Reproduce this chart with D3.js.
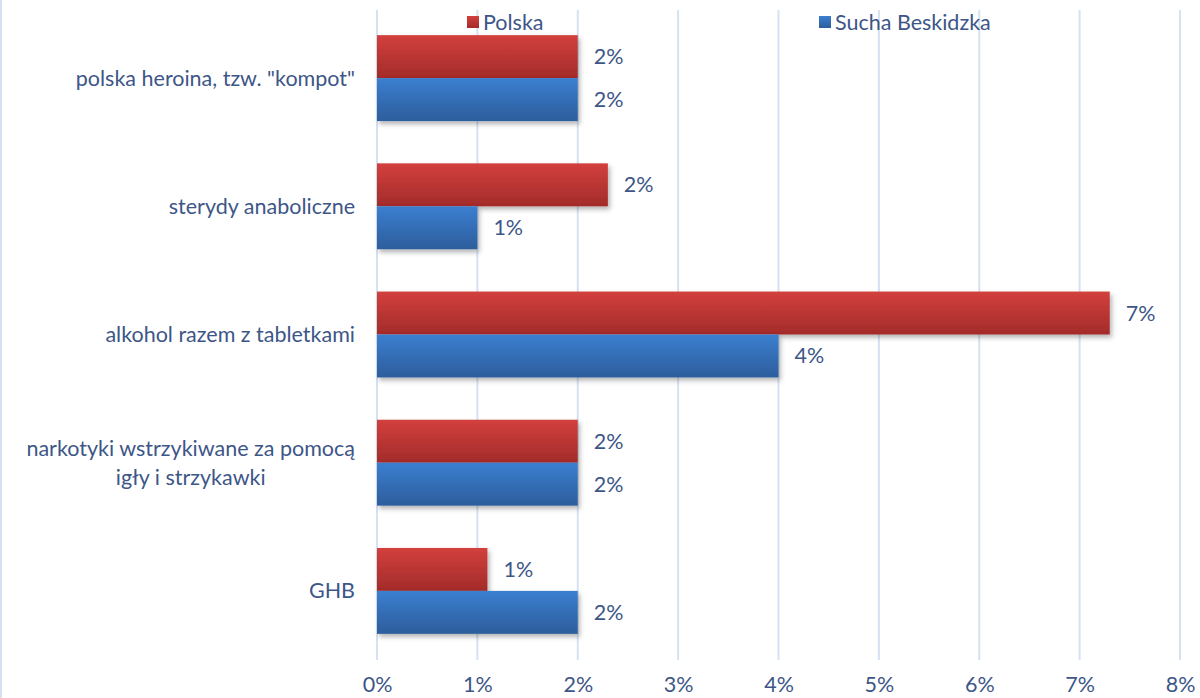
<!DOCTYPE html>
<html><head><meta charset="utf-8">
<script src="https://cdn.jsdelivr.net/npm/d3@7"></script>
<style>
html,body{margin:0;padding:0;background:#fff;}
svg{display:block;font-family:Lato,"Open Sans",sans-serif;}
</style></head>
<body>
<svg id="chart" width="1200" height="698"></svg>
<script>
const categories = [
  ["polska heroina, tzw. \"kompot\""],
  ["sterydy anaboliczne"],
  ["alkohol razem z tabletkami"],
  ["narkotyki wstrzykiwane za pomocą", "igły i strzykawki"],
  ["GHB"]
];
const seriesNames = ["Polska", "Sucha Beskidzka"];
const polska = [2.0, 2.3, 7.3, 2.0, 1.1];
const sucha = [2.0, 1.0, 4.0, 2.0, 2.0];
const polskaLabels = ["2%", "2%", "7%", "2%", "1%"];
const suchaLabels = ["2%", "1%", "4%", "2%", "2%"];
const ticks = [0,1,2,3,4,5,6,7,8];

(function(){
const svg = d3.select("#chart");
const W = 1200, H = 698;
const mLeft = 377, mRight = 1180, mTop = 14, mBottom = 655;
const textColor = "#3d5687";
const fs = 21.5;

const defs = svg.append("defs");
function grad(id, c1, c2){
  const g = defs.append("linearGradient").attr("id", id).attr("x1",0).attr("y1",0).attr("x2",0).attr("y2",1);
  g.append("stop").attr("offset","0%").attr("stop-color",c1);
  g.append("stop").attr("offset","100%").attr("stop-color",c2);
}
grad("gRed", "#d2403d", "#a32b2a");
grad("gBlue", "#3b7fd0", "#2d5d9c");
const f = defs.append("filter").attr("id","sh").attr("x","-5%").attr("y","-20%").attr("width","115%").attr("height","150%");
f.append("feDropShadow").attr("dx",2).attr("dy",3).attr("stdDeviation",2.5).attr("flood-color","#000").attr("flood-opacity",0.3);

svg.append("line").attr("x1",1).attr("x2",1).attr("y1",0).attr("y2",H).attr("stroke","#d3e0f0").attr("stroke-width",2);

const x = d3.scaleLinear().domain([0,8]).range([mLeft,mRight]);
const y = d3.scaleBand().domain(d3.range(categories.length)).range([mTop,mBottom]).paddingInner(0.33).paddingOuter(0.165);
const ySub = d3.scaleBand().domain([0,1]).range([0,y.bandwidth()]);

svg.append("g").selectAll("line").data(ticks).join("line")
  .attr("x1",d=>x(d)).attr("x2",d=>x(d)).attr("y1",10).attr("y2",660)
  .attr("stroke","#d5e2f2").attr("stroke-width",2);

const xAxis = d3.axisBottom(x).tickValues(ticks).tickFormat(d=>d+"%").tickSize(0);
const gx = svg.append("g").attr("transform",`translate(0,${mBottom+19})`).call(xAxis);
gx.select(".domain").remove();
gx.selectAll("text").attr("fill",textColor).attr("font-size",fs).attr("dy","0.71em")
  .attr("font-family","Lato,sans-serif");

const series = [
  {vals: polska, labels: polskaLabels, fill: "url(#gRed)", idx: 0},
  {vals: sucha, labels: suchaLabels, fill: "url(#gBlue)", idx: 1}
];
series.forEach(s=>{
  const g = svg.append("g");
  g.selectAll("rect").data(s.vals).join("rect")
    .attr("x", x(0))
    .attr("y", (d,i)=> y(i)+ySub(s.idx))
    .attr("width", d=> x(d)-x(0))
    .attr("height", ySub.bandwidth())
    .attr("fill", s.fill)
    .attr("filter","url(#sh)");
  g.selectAll("text").data(s.vals).join("text")
    .attr("x", d=> x(d)+16)
    .attr("y", (d,i)=> y(i)+ySub(s.idx)+ySub.bandwidth()/2)
    .attr("dy","0.35em")
    .attr("fill", textColor).attr("font-size",fs)
    .text((d,i)=> s.labels[i]);
});

const catG = svg.append("g");
categories.forEach((lines,i)=>{
  const cy = y(i)+y.bandwidth()/2;
  const n = lines.length, lh = 29;
  const t = catG.append("text").attr("fill",textColor).attr("font-size",fs);
  lines.forEach((ln,j)=>{
    t.append("tspan").text(ln).attr("y", cy + (j-(n-1)/2)*lh).attr("dy","0.35em");
  });
  const widths = [];
  t.selectAll("tspan").each(function(){ widths.push(this.getComputedTextLength()); });
  const maxW = d3.max(widths);
  const cx = 355 - maxW/2;
  t.selectAll("tspan").attr("x", cx).attr("text-anchor","middle");
});

const leg = [{name: seriesNames[0], fill:"url(#gRed)", x:467},{name: seriesNames[1], fill:"url(#gBlue)", x:819}];
leg.forEach(l=>{
  svg.append("rect").attr("x",l.x).attr("y",16).attr("width",12).attr("height",12).attr("fill",l.fill);
  svg.append("text").attr("x",l.x+16).attr("y",22).attr("dy","0.35em").attr("fill",textColor).attr("font-size",fs).text(l.name);
});
})();
</script>
</body></html>
